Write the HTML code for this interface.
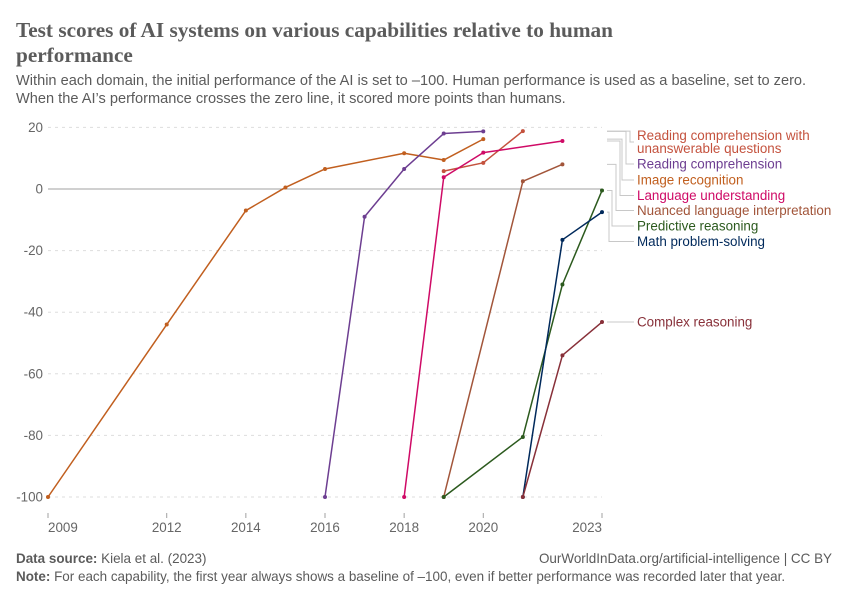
<!DOCTYPE html>
<html lang="en">
<head>
<meta charset="utf-8">
<title>Test scores of AI systems</title>
<style>
html,body{margin:0;padding:0;background:#fff;}
body{width:850px;height:600px;overflow:hidden;position:relative;font-family:"Liberation Sans",sans-serif;}
svg{position:absolute;left:0;top:0;}
text{font-family:"Liberation Sans",sans-serif;}
</style>
</head>
<body>
<svg id="chart" width="850" height="600" viewBox="0 0 850 600" xmlns="http://www.w3.org/2000/svg">
  <g>
    <text x="16" y="37" font-size="21.25" font-weight="700" fill="#5b5b5b" style="font-family:'Liberation Serif',serif">Test scores of AI systems on various capabilities relative to human</text>
    <text x="16" y="62" font-size="21.25" font-weight="700" fill="#5b5b5b" style="font-family:'Liberation Serif',serif">performance</text>
    <text x="16" y="85" font-size="14.6" fill="#5b5b5b">Within each domain, the initial performance of the AI is set to –100. Human performance is used as a baseline, set to zero.</text>
    <text x="16" y="103" font-size="14.6" fill="#5b5b5b">When the AI’s performance crosses the zero line, it scored more points than humans.</text>
  </g>
  <g id="grid"></g>
  <g id="xaxis"></g>
  <g id="connectors"></g>
  <g id="series"></g>
  <g id="labels"></g>
  <g>
    <text x="16" y="563" font-size="13.45" fill="#5b5b5b"><tspan font-weight="700">Data source:</tspan> Kiela et al. (2023)</text>
    <text x="832" y="563" font-size="13.45" fill="#5b5b5b" text-anchor="end">OurWorldInData.org/artificial-intelligence | CC BY</text>
    <text x="16" y="581" font-size="13.45" fill="#5b5b5b"><tspan font-weight="700">Note:</tspan> For each capability, the first year always shows a baseline of –100, even if better performance was recorded later that year.</text>
  </g>
</svg>
<script>
const yTicks = [20, 0, -20, -40, -60, -80, -100];
const xTicks = [2009, 2012, 2014, 2016, 2018, 2020, 2023];

const imageYears = [2009, 2012, 2014, 2015, 2016, 2018, 2019, 2020];
const imageValues = [-100, -44, -7, 0.5, 6.5, 11.6, 9.4, 16.2];
const readingYears = [2016, 2017, 2018, 2019, 2020];
const readingValues = [-100, -9, 6.5, 18, 18.7];
const unanswerableYears = [2019, 2020, 2021];
const unanswerableValues = [5.8, 8.5, 18.8];
const languageYears = [2018, 2019, 2020, 2022];
const languageValues = [-100, 3.8, 11.8, 15.6];
const nuancedYears = [2019, 2021, 2022];
const nuancedValues = [-100, 2.5, 8];
const predictiveYears = [2019, 2021, 2022, 2023];
const predictiveValues = [-100, -80.5, -31, -0.5];
const mathYears = [2021, 2022, 2023];
const mathValues = [-100, -16.5, -7.5];
const complexYears = [2021, 2022, 2023];
const complexValues = [-100, -54, -43.2];

const SVGNS = 'http://www.w3.org/2000/svg';
const xScale = function (year) { return 48 + (year - 2009) * (602 - 48) / (2023 - 2009); };
const yScale = function (v) { return 189 - v * (497 - 189) / 100; };
function mk(tag, parent, attrs) {
  const el = document.createElementNS(SVGNS, tag);
  for (const k in attrs) el.setAttribute(k, attrs[k]);
  parent.appendChild(el);
  return el;
}

const grid = document.getElementById('grid');
yTicks.forEach(function (t) {
  const y = yScale(t);
  const line = mk('line', grid, {x1: 48, x2: 602, y1: y, y2: y, stroke: t === 0 ? '#a1a1a1' : '#dddddd', 'stroke-width': 1, 'stroke-dasharray': t === 0 ? 'none' : '3,4'});
  
  
  const label = mk('text', grid, {x: 43, y: y + 4.5, 'font-size': 13.4, fill: '#666666', 'text-anchor': 'end'});
  label.textContent = String(t);
  
  
});

const xaxis = document.getElementById('xaxis');
xTicks.forEach(function (t, i) {
  const x = xScale(t);
  const tick = mk('line', xaxis, {x1: x, x2: x, y1: 513, y2: 518, stroke: '#a1a1a1', 'stroke-width': 1});
  
  
  const anchor = i === 0 ? 'start' : (i === xTicks.length - 1 ? 'end' : 'middle');
  const label = mk('text', xaxis, {x: x, y: 532, 'font-size': 13.4, fill: '#666666', 'text-anchor': anchor});
  label.textContent = String(t);
  
  
});

const seriesList = [
  {id: 'image-recognition', years: imageYears, values: imageValues, color: '#c15f1f'},
  {id: 'reading-comprehension', years: readingYears, values: readingValues, color: '#6d3e91'},
  {id: 'reading-unanswerable', years: unanswerableYears, values: unanswerableValues, color: '#c4523e'},
  {id: 'nuanced-language', years: nuancedYears, values: nuancedValues, color: '#a2553a'},
  {id: 'language-understanding', years: languageYears, values: languageValues, color: '#cf0a66'},
  {id: 'predictive-reasoning', years: predictiveYears, values: predictiveValues, color: '#2c5a1e'},
  {id: 'math-problem-solving', years: mathYears, values: mathValues, color: '#00295b'},
  {id: 'complex-reasoning', years: complexYears, values: complexValues, color: '#883039'}
];
const seriesRoot = document.getElementById('series');
seriesList.forEach(function (s) {
  const g = mk('g', seriesRoot, {});
  
  
  const pts = s.years.map(function (yr, i) { return xScale(yr) + ',' + yScale(s.values[i]); }).join(' ');
  const line = mk('polyline', g, {points: pts, fill: 'none', stroke: s.color, 'stroke-width': 1.5, 'stroke-linejoin': 'round'});
  
  
  s.years.forEach(function (yr, i) {
    const dot = mk('circle', g, {cx: xScale(yr), cy: yScale(s.values[i]), r: 2, fill: s.color});
    
    
  });
});

const labelDefs = [
  {id: 'reading-unanswerable', lines: ['Reading comprehension with', 'unanswerable questions'], color: '#c4523e', y: 142, elbow: 630, end: unanswerableValues},
  {id: 'reading-comprehension', lines: ['Reading comprehension'], color: '#6d3e91', y: 164, elbow: 626, end: readingValues},
  {id: 'image-recognition', lines: ['Image recognition'], color: '#c15f1f', y: 180, elbow: 622, end: imageValues},
  {id: 'language-understanding', lines: ['Language understanding'], color: '#cf0a66', y: 195.5, elbow: 620, end: languageValues},
  {id: 'nuanced-language', lines: ['Nuanced language interpretation'], color: '#a2553a', y: 210.5, elbow: 616, end: nuancedValues},
  {id: 'predictive-reasoning', lines: ['Predictive reasoning'], color: '#2c5a1e', y: 226, elbow: 612, end: predictiveValues},
  {id: 'math-problem-solving', lines: ['Math problem-solving'], color: '#00295b', y: 241.5, elbow: 609, end: mathValues},
  {id: 'complex-reasoning', lines: ['Complex reasoning'], color: '#883039', y: 322, elbow: 620, end: complexValues}
];
const connectors = document.getElementById('connectors');
const labels = document.getElementById('labels');
labelDefs.forEach(function (d) {
  const y0 = yScale(d.end[d.end.length - 1]);
  const path = mk('path', connectors, {d: 'M607 ' + y0 + 'H' + d.elbow + 'V' + d.y + 'H634', fill: 'none', stroke: '#c8c8c8', 'stroke-width': 1});
  
  
  const text = mk('text', labels, {'font-size': 13.4, fill: d.color});
  
  
  const firstBaseline = d.y + 4.5 - (d.lines.length - 1) * 6.5;
  d.lines.forEach(function (ln, i) {
    const ts = mk('tspan', text, {x: 637, y: firstBaseline + i * 13});
    ts.textContent = ln;
  });
});
</script>
</body>
</html>
